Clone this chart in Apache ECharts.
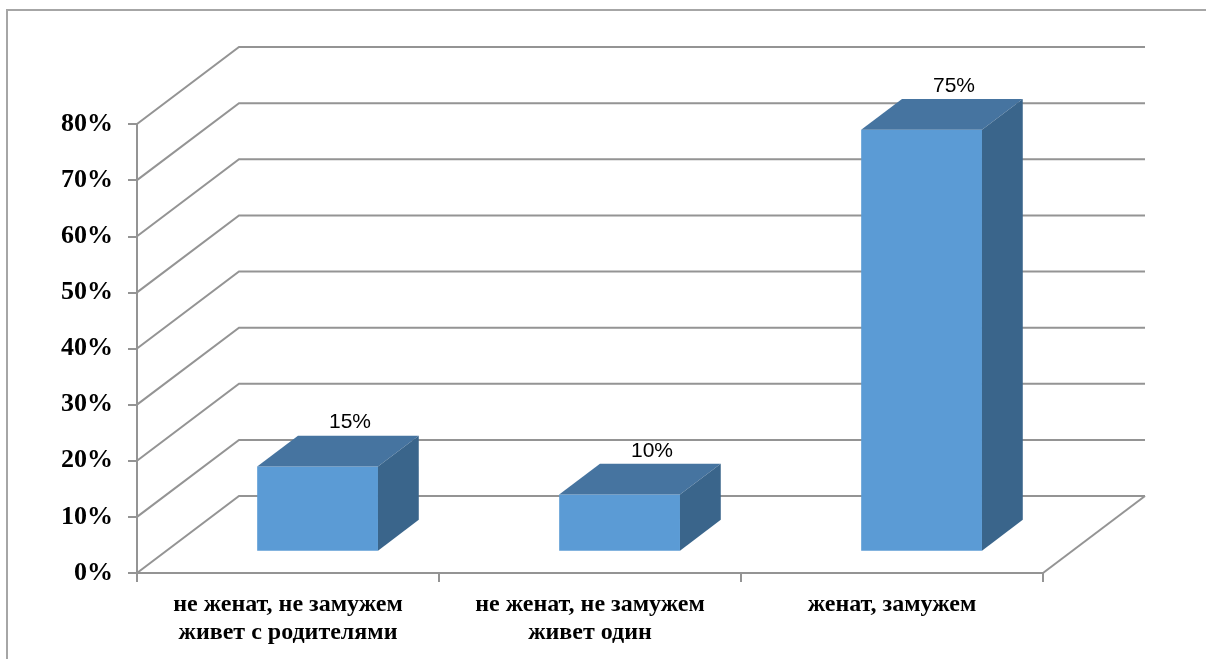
<!DOCTYPE html>
<html>
<head>
<meta charset="utf-8">
<script src="https://cdn.jsdelivr.net/npm/echarts@6/dist/echarts.min.js"></script>
<style>
html,body{margin:0;padding:0;background:#fff;}
#chart{width:1206px;height:659px;}
</style>
</head>
<body>
<div id="chart"></div>
<script>
// ---- data ----
var categories = ['не женат, не замужем\nживет с родителями', 'не женат, не замужем\nживет один', 'женат, замужем'];
var values = [0.15, 0.10, 0.75];
var yTicks = [0, 0.1, 0.2, 0.3, 0.4, 0.5, 0.6, 0.7, 0.8];

// ---- 3D look (styling) ----
var DX = 102, DY = -77;        // depth offset of the back wall
var F0 = 0.29, F1 = 0.69;      // bar front / back depth fractions
var BAR_W = 0.4;               // bar width as fraction of band
var GRID_COLOR = '#949494';

var chart = echarts.init(document.getElementById('chart'), null, {renderer: 'canvas'});

function wallItem(params, api) {
  var cs = params.coordSys;
  var v = api.value(1);
  var y = api.coord([0, v])[1];
  var x0 = cs.x, x1 = cs.x + cs.width;
  var children = [{
    type: 'polyline',
    shape: {points: [[x0, y], [x0 + DX, y + DY], [x1 + DX, y + DY]]},
    style: {stroke: GRID_COLOR, lineWidth: 2, fill: null}
  }];
  if (v === 0) {
    children.push({
      type: 'line',
      shape: {x1: x1, y1: y, x2: x1 + DX, y2: y + DY},
      style: {stroke: GRID_COLOR, lineWidth: 2}
    });
  }
  return {type: 'group', children: children};
}

function barItem(params, api) {
  var idx = api.value(0);
  var v = api.value(1);
  var base = api.coord([idx, 0]);
  var top = api.coord([idx, v]);
  var band = api.size([1, 0])[0];
  var w = band * BAR_W;
  var fx = base[0] - w / 2 + F0 * DX;
  var fyB = base[1] + F0 * DY;
  var fyT = top[1] + F0 * DY;
  var ddx = (F1 - F0) * DX, ddy = (F1 - F0) * DY;
  var front = {
    type: 'rect',
    shape: {x: fx, y: fyT, width: w, height: fyB - fyT},
    style: {fill: '#5B9BD5'}
  };
  var topFace = {
    type: 'polygon',
    shape: {points: [[fx, fyT], [fx + w, fyT], [fx + w + ddx, fyT + ddy], [fx + ddx, fyT + ddy]]},
    style: {fill: '#4674A0'}
  };
  var side = {
    type: 'polygon',
    shape: {points: [[fx + w, fyT], [fx + w + ddx, fyT + ddy], [fx + w + ddx, fyB + ddy], [fx + w, fyB]]},
    style: {fill: '#3A658B'}
  };
  var label = {
    type: 'text',
    style: {
      text: Math.round(v * 100) + '%',
      x: fx + w / 2 + ddx / 2 + 12,
      y: fyT + ddy - 13,
      align: 'center',
      verticalAlign: 'middle',
      fontFamily: 'Liberation Sans',
      fontSize: 21,
      fill: '#000'
    }
  };
  return {type: 'group', children: [front, topFace, side, label]};
}

var option = {
  animation: false,
  backgroundColor: '#fff',
  graphic: [{
    type: 'rect',
    shape: {x: 7, y: 10, width: 1400, height: 900},
    style: {fill: null, stroke: '#a6a6a6', lineWidth: 2},
    z: 0
  }],
  grid: {left: 137, right: 163, top: 124, bottom: 86, containLabel: false},
  xAxis: {
    type: 'category',
    data: categories,
    boundaryGap: true,
    axisLine: {show: true, lineStyle: {color: GRID_COLOR, width: 2}},
    axisTick: {show: true, length: 9, lineStyle: {color: GRID_COLOR, width: 2}},
    axisLabel: {
      margin: 18,
      fontFamily: 'Liberation Serif',
      fontWeight: 'bold',
      fontSize: 24,
      lineHeight: 28,
      color: '#000',
      interval: 0
    },
    splitLine: {show: false}
  },
  yAxis: {
    type: 'value',
    min: 0,
    max: 0.8,
    interval: 0.1,
    axisLine: {show: true, lineStyle: {color: GRID_COLOR, width: 2}},
    axisTick: {show: true, length: 9, lineStyle: {color: GRID_COLOR, width: 2}},
    axisLabel: {
      margin: 24,
      fontFamily: 'Liberation Serif',
      fontWeight: 'bold',
      fontSize: 26,
      color: '#000',
      formatter: function (v) { return Math.round(v * 100) + '%'; }
    },
    splitLine: {show: false}
  },
  series: [{
    type: 'custom',
    name: 'walls',
    z: 1,
    silent: true,
    clip: false,
    encode: {x: 0, y: 1},
    renderItem: wallItem,
    data: yTicks.map(function (t) { return [0, t]; })
  }, {
    type: 'custom',
    name: 'bars',
    z: 3,
    clip: false,
    encode: {x: 0, y: 1},
    renderItem: barItem,
    data: values.map(function (v, i) { return [i, v]; })
  }]
};
chart.setOption(option);
</script>
</body>
</html>
